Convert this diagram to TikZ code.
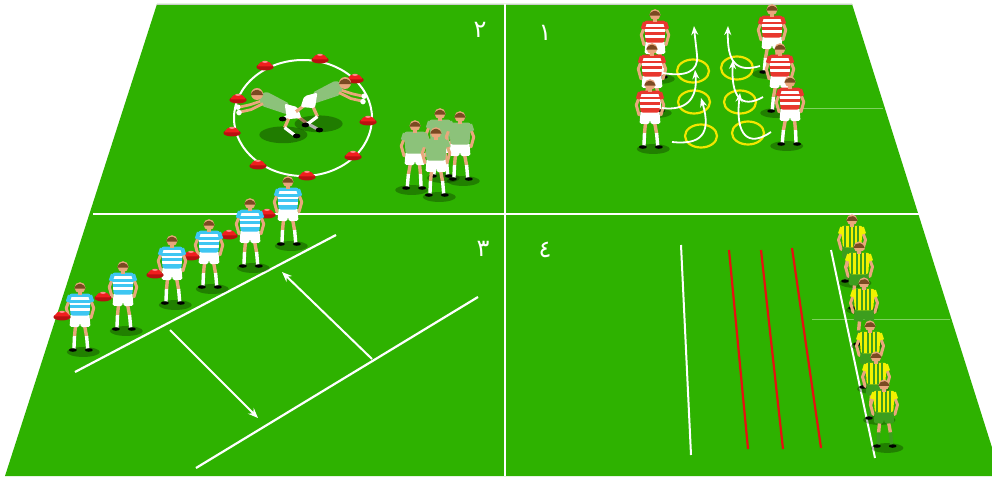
\documentclass[tikz,border=0pt]{standalone}
\usepackage{fontspec}
\usetikzlibrary{arrows.meta}
\newfontfamily\arabicfont[Script=Arabic]{DejaVu Sans}

\definecolor{pitch}{HTML}{2EB200}
\definecolor{pitchfaint}{HTML}{7FD25F}
\definecolor{skin}{HTML}{E9A77C}
\definecolor{hair}{HTML}{7A4A22}
\definecolor{hoopred}{HTML}{E8372E}
\definecolor{skyblue}{HTML}{3EC6F2}
\definecolor{sage}{HTML}{8CC27A}
\definecolor{kitgold}{HTML}{F2F200}
\definecolor{kitgreen}{HTML}{3C9E1E}
\definecolor{ringyellow}{HTML}{F2E600}
\definecolor{conered}{HTML}{F01E1E}
\definecolor{conedark}{HTML}{B81010}
\definecolor{linered}{HTML}{E61010}

% standing player, feet at (#1,#2); #3 scale; #4 facing (1 or -1);
% #5 shirt; #6 stripe colour; #7 shorts and socks; #8 stripes: 0 hoops, 1 bars, 2 plain
\newcommand\rugbyplayer[8]{%
\begin{scope}[shift={(#1,#2)},scale=#3,xscale=#4]
  \fill[black,opacity=.28] (3,0) ellipse (15 and 4.5);
  \draw[skin,line width=3.4] (-4,-25) -- (-5,-14);
  \draw[skin,line width=3.4] (4,-25) -- (6,-14);
  \draw[#7,line width=3.4] (-5,-14.5) -- (-5.5,-3);
  \draw[#7,line width=3.4] (6,-14.5) -- (7,-3);
  \fill[black] (-6.5,-1.8) ellipse (3.6 and 1.6);
  \fill[black] (8,-1.8) ellipse (3.6 and 1.6);
  \draw[skin,line width=3,line cap=round,line join=round] (-9,-49) -- (-12.5,-40) -- (-10,-31);
  \draw[skin,line width=3,line cap=round,line join=round] (9,-49) -- (12.5,-40) -- (10,-31);
  \fill[#7,rounded corners=1.5] (-8.5,-35) -- (8.5,-35) -- (9.5,-23) -- (0.8,-22.5)
       -- (0,-27) -- (-0.8,-22.5) -- (-9.5,-23) -- cycle;
  \fill[#5,rounded corners=2.5] (-10,-53) -- (10,-53) -- (8.5,-33) -- (-8.5,-33) -- cycle;
  \begin{scope}
    \clip[rounded corners=2.5] (-10,-53) -- (10,-53) -- (8.5,-33) -- (-8.5,-33) -- cycle;
    \ifcase#8
      \foreach \yy in {-50,-45,-40} \fill[#6] (-12,\yy) rectangle (12,\yy+2.3);
    \or
      \foreach \xx in {-7,-3,1,5} \fill[#6] (\xx,-54) rectangle (\xx+1.6,-32);
    \or
    \fi
  \end{scope}
  \draw[#5,line width=4] (-9.2,-51.5) -- (-11.2,-45.5);
  \draw[#5,line width=4] (9.2,-51.5) -- (11.2,-45.5);
  \fill[skin] (-2,-56) rectangle (2,-52);
  \fill[skin] (0,-58.5) circle (5);
  \fill[hair] (-5.2,-57.6) arc (190:350:5.25) -- cycle;
\end{scope}}

% diving player, head at (#1,#2); #3 direction (1 dives to the left); #4 shirt
\newcommand\diverfig[4]{%
\begin{scope}[shift={(#1,#2)},scale=1.2,xscale=#3]
  \fill[black,opacity=.3] (22,34) ellipse (20 and 7);
  \draw[skin,line width=3.2,line join=round] (27,19) -- (23,28);
  \draw[white,line width=3.2] (23,28) -- (31,34);
  \fill[black] (33,35) ellipse (3.2 and 2);
  \draw[skin,line width=3.2] (33,18) -- (41,24);
  \draw[white,line width=3.2] (41,24) -- (50,29);
  \fill[black] (52,30) ellipse (3.2 and 2);
  \draw[skin,line width=2.8,line join=round] (6,5) -- (-6,9) -- (-15,11);
  \fill[white] (-16,11) circle (2.3);
  \fill[#4,rounded corners=2] (1,1) -- (8,-2) -- (27,8) -- (25,17) -- (4,10) -- cycle;
  \fill[white,rounded corners=2] (23,8) -- (34,11) -- (37,20) -- (25,21) -- cycle;
  \draw[skin,line width=2.8,line join=round] (5,8) -- (-5,13) -- (-14,15);
  \fill[white] (-15,15.5) circle (2.3);
  \fill[skin] (0,0) circle (5);
  \fill[hair] (-5.2,0.9) arc (190:350:5.25) -- cycle;
\end{scope}}

% flat training cone at (#1,#2)
\newcommand\trainingcone[2]{%
\begin{scope}[shift={(#1,#2)},scale=1.15]
  \fill[conedark] (0,0) ellipse (7.5 and 3);
  \fill[conered] (-6.5,-0.5) .. controls (-4,-7) and (4,-7) .. (6.5,-0.5) -- cycle;
  \fill[red!45!white] (0,-4.5) ellipse (2.4 and 0.9);
\end{scope}}

\tikzset{
  fieldline/.style={white,line width=2},
  drillline/.style={white,line width=2.2},
  drillarrow/.style={white,line width=2,-{Stealth[length=10pt,width=8pt]}},
  runarrow/.style={white,line width=1.8,-{Stealth[length=9pt,width=7pt]}},
  ring/.style={ringyellow,line width=2.2},
  redline/.style={linered,line width=2.2},
  faintline/.style={pitchfaint,line width=0.6},
  number/.style={text=white,font=\arabicfont\fontsize{24}{24}\selectfont,inner sep=0pt}
}

\begin{document}
\begin{tikzpicture}[x=1pt,y=-1pt]
\useasboundingbox (0,0) rectangle (992,476);
\clip (0,0) rectangle (992,476);
\fill[white] (0,0) rectangle (992,476);

% pitch and its quarter lines
\fill[pitch] (157,4) -- (852,4) -- (1001,476) -- (5,476) -- cycle;
\draw[gray!40,line width=0.6] (157,4) -- (852,4);
\draw[fieldline] (93,214) -- (919,214);
\draw[fieldline] (505,4) -- (505,476);
\draw[faintline] (800,108) -- (883,108);
\draw[faintline] (812,319) -- (950,319);

% drill 1: ladder of rings
\foreach \cx/\cy in {693/71,737/68,694/102,740/102,701/136,748/133}
  \draw[ring] (\cx,\cy) ellipse (16 and 11.5);
\foreach \fx/\fy in {655/79,652/113,650/149}
  \rugbyplayer{\fx}{\fy}{1.1}{1}{hoopred}{white}{white}{0};
\foreach \fx/\fy in {772/74,780/113,790/146}
  \rugbyplayer{\fx}{\fy}{1.1}{-1}{hoopred}{white}{white}{0};
\draw[runarrow] (663,73) .. controls (685,77) and (699,72) .. (697,55) .. controls (696,45) and (695,38) .. (694,26);
\draw[runarrow] (662,108) .. controls (685,111) and (698,100) .. (695,70);
\draw[runarrow] (672,142) .. controls (700,145) and (712,135) .. (701,98);
\draw[runarrow] (760,66) .. controls (736,73) and (727,62) .. (728,26);
\draw[runarrow] (763,97) .. controls (740,110) and (731,95) .. (733,60);
\draw[runarrow] (771,132) .. controls (748,148) and (735,135) .. (740,93);

% drill 2: circle of cones
\draw[white,line width=2] (303,118) ellipse (69 and 58);
\foreach \kx/\ky in {265/67,320/60,355/80,368/122,353/157,307/177,258/166,232/133,238/100}
  \trainingcone{\kx}{\ky};
\diverfig{257}{94}{1}{sage}
\diverfig{345}{83}{-1}{sage}
\rugbyplayer{440}{178}{1.1}{1}{sage}{sage}{white}{2}
\rugbyplayer{460}{181}{1.1}{1}{sage}{sage}{white}{2}
\rugbyplayer{415}{190}{1.1}{-1}{sage}{sage}{white}{2}
\rugbyplayer{436}{197}{1.1}{1}{sage}{sage}{white}{2}

% drill 3: line of cone carriers
\draw[drillline] (75,372) -- (336,235);
\draw[drillline] (478,297) -- (196,468);
\draw[drillarrow] (372,359) -- (282,272);
\draw[drillarrow] (170,330) -- (258,418);
\foreach \fx/\fy/\kx/\ky in {288/246/267/215, 250/268/229/236, 209/289/191/257,
    172/305/155/275, 123/331/103/298, 80/352/62/317}{
  \rugbyplayer{\fx}{\fy}{1.1}{1}{skyblue}{white}{white}{0}
  \trainingcone{\kx}{\ky}
}

% drill 4: lanes
\draw[white,line width=2] (681,245) -- (691,455);
\draw[redline] (729,250) -- (748,449);
\draw[redline] (761,250) -- (783,449);
\draw[redline] (792,248) -- (821,448);
\draw[white,line width=2] (831,250) -- (875,458);
\foreach \fx/\fy in {852/283,859/310,864/346,870/389,876/420,884/448}
  \rugbyplayer{\fx}{\fy}{1.08}{1}{kitgold}{kitgreen}{kitgreen}{1};

% quarter numbers
\node[number] (lab1) at (545,33) {١};
\node[number] (lab2) at (480,30) {٢};
\node[number] (lab3) at (483,249) {٣};
\node[number] (lab4) at (545,250) {٤};
\end{tikzpicture}
\end{document}
